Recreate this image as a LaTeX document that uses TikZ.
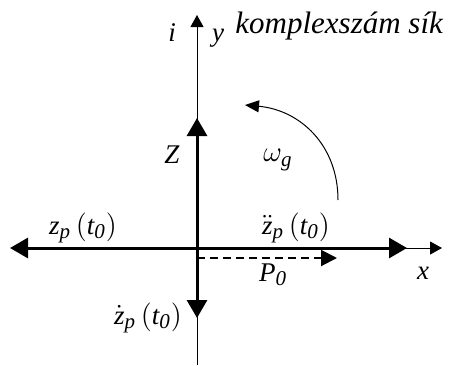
\documentclass[tikz,border=0pt]{standalone}
\usepackage{amsmath}
\usepackage{fontspec}
\setmainfont{Liberation Serif}
\usepackage{tikz}
\usetikzlibrary{arrows.meta}
\DeclareMathSizes{13.5}{13.5}{10.5}{8}

\tikzset{
    lbl/.style={inner sep=0pt, font=\fontsize{13.5}{16}\selectfont\itshape},
    thinaxis/.style={line width=0.5pt, -{Triangle[length=6pt, width=6.5pt]}},
    vec/.style={line width=1.5pt, -{Triangle[length=9pt, width=10pt]}}
}
\newcommand{\zpt}[1]{$#1_{\mathit{p}}\,\mathrm{(}\mathit{t}_{\mathit{0}}\mathrm{)}$}

\begin{document}
\begin{tikzpicture}[x=0.5pt, y=-0.5pt]
    \useasboundingbox (0,0) rectangle (449,365);

    % Origin and axis ends
    \coordinate (O) at (197,248);
    \coordinate (ybot) at (197,365);
    \coordinate (ytip) at (197,15);
    \coordinate (xtip) at (442,248);

    % Axes of the complex plane
    \draw[thinaxis] (ybot) -- (ytip);
    \draw[thinaxis] (O) -- (xtip);
    \node[lbl] (ilbl) at (172,33) {i};
    \node[lbl] (ylbl) at (218,38) {y};
    \node[lbl, anchor=west, font=\fontsize{15.5}{18}\selectfont\itshape] (plane) at (235,26) {komplexszám sík};
    \node[lbl] (xlbl) at (423,273) {x};

    % Phasors
    \coordinate (zleft) at (10,248);
    \coordinate (zright) at (407,248);
    \coordinate (zup) at (197,118);
    \coordinate (zdown) at (197,318);
    \draw[vec] (O) -- (zleft);
    \draw[vec] (O) -- (zright);
    \draw[vec] (O) -- (zup);
    \draw[vec] (O) -- (zdown);
    \node[lbl] (zp) at (83,228) {\zpt{\mathit{z}}};
    \node[lbl] (zpdd) at (296,228) {\zpt{\ddot{\mathit{z}}}};
    \node[lbl] (Zlbl) at (172,155) {Z};
    \node[lbl] (zpd) at (148,318) {\zpt{\dot{\mathit{z}}}};

    % Dashed P0
    \coordinate (pstart) at (197,258);
    \coordinate (ptip) at (337,258);
    \draw[line width=1pt, dash pattern=on 4pt off 2.5pt, -{Triangle[length=8pt, width=8pt]}] (pstart) -- (ptip);
    \node[lbl] (P0) at (273,275) {$\mathit{P}_{\mathit{0}}$};

    % Rotation
    \coordinate (rotstart) at (338,200);
    \coordinate (rottip) at (245,105);
    \draw[line width=0.5pt, -{Triangle[length=7pt, width=6pt]}] (rotstart) .. controls (338,145) and (300,110) .. (rottip);
    \node[lbl] (omega) at (278,160) {$\omega_{\mathit{g}}$};
\end{tikzpicture}
\end{document}
